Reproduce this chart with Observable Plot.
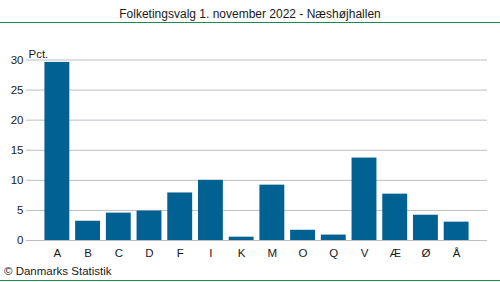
<!DOCTYPE html>
<html><head><meta charset="utf-8">
<script src="https://cdn.jsdelivr.net/npm/d3@7"></script>
<script src="https://cdn.jsdelivr.net/npm/@observablehq/plot@0.6"></script>
<style>
body{margin:0;background:#fff;font-family:"Liberation Sans",Arial,sans-serif;}
#wrap{position:relative;width:500px;height:282px;overflow:hidden;}
#title{position:absolute;top:7px;left:0;width:500px;text-align:center;font-size:12px;color:#1a1a1a;}
.gl{position:absolute;left:0;width:500px;height:1px;background:#1e8a4c;}
#chart{position:absolute;top:23px;left:0;}
#cap{position:absolute;top:265px;left:4px;font-size:11.5px;color:#1a1a1a;}
</style></head>
<body><div id="wrap">
<div id="title">Folketingsvalg 1. november 2022 - Næshøjhallen</div>
<div class="gl" style="top:22px"></div>
<div id="chart"></div>
<div id="cap">© Danmarks Statistik</div>
<div class="gl" style="top:280px"></div>
</div>
<script>
const parties = ["A","B","C","D","F","I","K","M","O","Q","V","Æ","Ø","Å"];
const values = [29.6,3.2,4.55,4.9,7.9,10.0,0.55,9.2,1.7,0.9,13.7,7.7,4.2,3.05];
const yTicks = [0,5,10,15,20,25,30];
const data = parties.map((p,i)=>({party:p,value:values[i]}));
const chart = Plot.plot({
  width:500, height:240,
  marginLeft:26, marginRight:13, marginTop:36.5, marginBottom:23,
  style:{fontFamily:"Liberation Sans, Arial, sans-serif", fontSize:"11.5px", color:"#1a1a1a", background:"white"},
  x:{domain:parties, paddingInner:0.19, paddingOuter:0.6, round:false, label:null, tickSize:0, tickPadding:8},
  y:{domain:[0,30], ticks:yTicks, label:null, tickSize:0, tickPadding:3},
  marks:[
    Plot.ruleY(yTicks,{stroke:"#bdbdc6", strokeWidth:1}),
    Plot.barY(data,{x:"party", y:"value", fill:"#006192"}),
    Plot.text(["Pct."],{frameAnchor:"top-left", dx:2, dy:-10, textAnchor:"start", fill:"#1a1a1a"})
  ]
});
document.getElementById("chart").appendChild(chart);
</script>
</body></html>
